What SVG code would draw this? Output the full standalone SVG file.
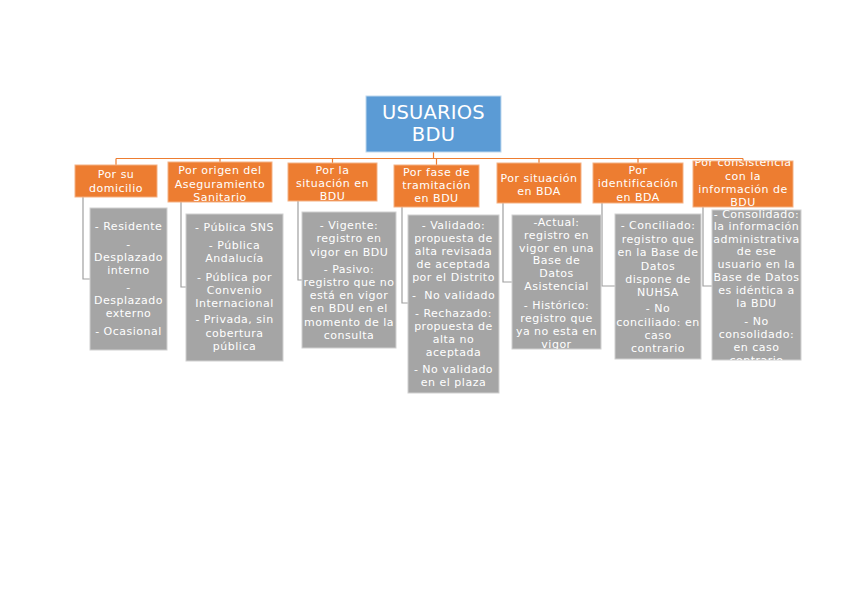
<svg xmlns="http://www.w3.org/2000/svg" width="848" height="599" viewBox="0 0 848 599">
<style>
.t{font-family:"DejaVu Sans","Verdana",sans-serif;font-size:11px;letter-spacing:0.5px;fill:#fff;text-anchor:middle}
.root{font-size:19.5px;letter-spacing:0.2px}
.or{fill:#ED7D31;stroke:#F4B183;stroke-width:1}
.gr{fill:#A5A5A5;stroke:#D0D0D0;stroke-width:1}
.bl{fill:#5B9BD5;stroke:#BDD7EE;stroke-width:1}
.lo{fill:none;stroke:#ED7D31;stroke-width:1.2}
.lg{fill:none;stroke:#A0A0A0;stroke-width:1.2}
</style>
<defs>
<clipPath id="cg5"><rect x="512" y="215" width="89" height="134"/></clipPath>
<clipPath id="cg7"><rect x="712" y="210" width="89" height="150"/></clipPath>
<clipPath id="co7"><rect x="693" y="161" width="100" height="46"/></clipPath>
</defs>
<rect width="848" height="599" fill="#fff"/>
<g id="connectors">
<path class="lo" d="M433.5 152V158.5M116 158.5H743M116 158.5V165M220 158.5V162M332.5 158.5V163M436.5 158.5V165M539 158.5V163M638 158.5V163M743 158.5V161"/>
<path class="lg" d="M83 197V279H90M181 202V287H186M298 201V280H302M402 207V303H408M503 203V282H512M602 203V286H615M703 207V286H712"/>
</g>
<g id="root">
<rect class="bl" x="366" y="96" width="135" height="56"/>
<text class="t root" x="433.5" y="118.5">USUARIOS</text>
<text class="t root" x="433.5" y="141">BDU</text>
</g>
<g id="c1">
<rect class="or" x="75" y="165" width="82" height="32"/>
<text class="t" x="116" y="178">Por su</text>
<text class="t" x="116" y="192">domicilio</text>
</g>
<g id="c2">
<rect class="or" x="168" y="162" width="104" height="40"/>
<text class="t" x="220" y="174">Por origen del</text>
<text class="t" x="220" y="188">Aseguramiento</text>
<text class="t" x="220" y="201">Sanitario</text>
</g>
<g id="c3">
<rect class="or" x="288" y="163" width="89" height="38"/>
<text class="t" x="332.5" y="174">Por la</text>
<text class="t" x="332.5" y="187">situación en</text>
<text class="t" x="332.5" y="200">BDU</text>
</g>
<g id="c4">
<rect class="or" x="394" y="165" width="85" height="42"/>
<text class="t" x="436.5" y="176">Por fase de</text>
<text class="t" x="436.5" y="189">tramitación</text>
<text class="t" x="436.5" y="202">en BDU</text>
</g>
<g id="c5">
<rect class="or" x="497" y="163" width="84" height="40"/>
<text class="t" x="539" y="182">Por situación</text>
<text class="t" x="539" y="195">en BDA</text>
</g>
<g id="c6">
<rect class="or" x="593" y="163" width="90" height="40"/>
<text class="t" x="638" y="174">Por</text>
<text class="t" x="638" y="187">identificación</text>
<text class="t" x="638" y="201">en BDA</text>
</g>
<g id="c7">
<rect class="or" x="693" y="161" width="100" height="46"/>
<g clip-path="url(#co7)">
<text class="t" x="743" y="166">Por consistencia</text>
<text class="t" x="743" y="179.5">con la</text>
<text class="t" x="743" y="193">información de</text>
<text class="t" x="743" y="206">BDU</text>
</g>
</g>
<g id="d1">
<rect class="gr" x="90" y="208" width="77" height="142"/>
<text class="t" x="128.5" y="230">- Residente</text>
<text class="t" x="128.5" y="248">-</text>
<text class="t" x="128.5" y="261">Desplazado</text>
<text class="t" x="128.5" y="274">interno</text>
<text class="t" x="128.5" y="291">-</text>
<text class="t" x="128.5" y="304">Desplazado</text>
<text class="t" x="128.5" y="317">externo</text>
<text class="t" x="128.5" y="335">- Ocasional</text>
</g>
<g id="d2">
<rect class="gr" x="186" y="214" width="97" height="147"/>
<text class="t" x="234.5" y="231">- Pública SNS</text>
<text class="t" x="234.5" y="249">- Pública</text>
<text class="t" x="234.5" y="262">Andalucía</text>
<text class="t" x="234.5" y="281">- Pública por</text>
<text class="t" x="234.5" y="294">Convenio</text>
<text class="t" x="234.5" y="307">Internacional</text>
<text class="t" x="234.5" y="323">- Privada, sin</text>
<text class="t" x="234.5" y="337">cobertura</text>
<text class="t" x="234.5" y="350">pública</text>
</g>
<g id="d3">
<rect class="gr" x="302" y="212" width="94" height="136"/>
<text class="t" x="349" y="229">- Vigente:</text>
<text class="t" x="349" y="242">registro en</text>
<text class="t" x="349" y="256">vigor en BDU</text>
<text class="t" x="349" y="273">- Pasivo:</text>
<text class="t" x="349" y="286">registro que no</text>
<text class="t" x="349" y="299">está en vigor</text>
<text class="t" x="349" y="312">en BDU en el</text>
<text class="t" x="349" y="326">momento de la</text>
<text class="t" x="349" y="339">consulta</text>
</g>
<g id="d4">
<rect class="gr" x="408" y="215" width="91" height="178"/>
<text class="t" x="453.5" y="229">- Validado:</text>
<text class="t" x="453.5" y="242">propuesta de</text>
<text class="t" x="453.5" y="255">alta revisada</text>
<text class="t" x="453.5" y="268">de aceptada</text>
<text class="t" x="453.5" y="281">por el Distrito</text>
<text class="t" x="453.5" y="299" xml:space="preserve">-  No validado</text>
<text class="t" x="453.5" y="317">- Rechazado:</text>
<text class="t" x="453.5" y="330">propuesta de</text>
<text class="t" x="453.5" y="343">alta no</text>
<text class="t" x="453.5" y="356">aceptada</text>
<text class="t" x="453.5" y="373">- No validado</text>
<text class="t" x="453.5" y="386">en el plaza</text>
</g>
<g id="d5">
<rect class="gr" x="512" y="215" width="89" height="134"/>
<g clip-path="url(#cg5)">
<text class="t" x="556.5" y="226">-Actual:</text>
<text class="t" x="556.5" y="238.8">registro en</text>
<text class="t" x="556.5" y="251.6">vigor en una</text>
<text class="t" x="556.5" y="264.4">Base de</text>
<text class="t" x="556.5" y="277.2">Datos</text>
<text class="t" x="556.5" y="290">Asistencial</text>
<text class="t" x="556.5" y="309">- Histórico:</text>
<text class="t" x="556.5" y="322">registro que</text>
<text class="t" x="556.5" y="335">ya no esta en</text>
<text class="t" x="556.5" y="348">vigor</text>
</g>
</g>
<g id="d6">
<rect class="gr" x="615" y="214" width="86" height="145"/>
<text class="t" x="658" y="229">- Conciliado:</text>
<text class="t" x="658" y="243">registro que</text>
<text class="t" x="658" y="256">en la Base de</text>
<text class="t" x="658" y="270">Datos</text>
<text class="t" x="658" y="283">dispone de</text>
<text class="t" x="658" y="296">NUHSA</text>
<text class="t" x="658" y="312">- No</text>
<text class="t" x="658" y="326">conciliado: en</text>
<text class="t" x="658" y="339">caso</text>
<text class="t" x="658" y="352">contrario</text>
</g>
<g id="d7">
<rect class="gr" x="712" y="210" width="89" height="150"/>
<g clip-path="url(#cg7)">
<text class="t" x="756.5" y="217.5">- Consolidado:</text>
<text class="t" x="756.5" y="230">la información</text>
<text class="t" x="756.5" y="242.5">administrativa</text>
<text class="t" x="756.5" y="255">de ese</text>
<text class="t" x="756.5" y="268">usuario en la</text>
<text class="t" x="756.5" y="281">Base de Datos</text>
<text class="t" x="756.5" y="294">es idéntica a</text>
<text class="t" x="756.5" y="307">la BDU</text>
<text class="t" x="756.5" y="325">- No</text>
<text class="t" x="756.5" y="338">consolidado:</text>
<text class="t" x="756.5" y="351">en caso</text>
<text class="t" x="756.5" y="364">contrario</text>
</g>
</g>
</svg>
